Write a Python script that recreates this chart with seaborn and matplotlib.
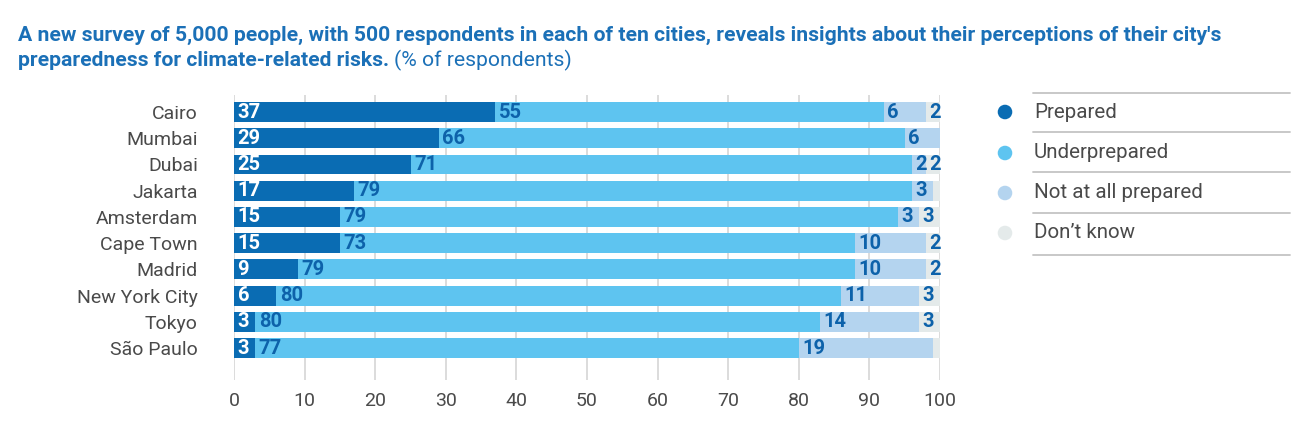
import pandas as pd
import matplotlib
matplotlib.use("Agg")
import matplotlib.pyplot as plt
import seaborn as sns

# Survey data (% of respondents)
cities = ["Cairo", "Mumbai", "Dubai", "Jakarta", "Amsterdam", "Cape Town",
          "Madrid", "New York City", "Tokyo", "São Paulo"]
prepared = [37, 29, 25, 17, 15, 15, 9, 6, 3, 3]
underprepared = [55, 66, 71, 79, 79, 73, 79, 80, 80, 77]
not_at_all = [6, 6, 2, 3, 3, 10, 10, 11, 14, 19]
dont_know = [2, 0, 2, 1, 3, 2, 2, 3, 3, 1]

categories = ["Prepared", "Underprepared", "Not at all prepared", "Don\u2019t know"]
colors = ["#0a6cb3", "#5ec4f0", "#b4d4ef", "#e4eaea"]
label_colors = ["white", "#0d62aa", "#0d62aa", "#0d62aa"]

df = pd.DataFrame({"city": cities, categories[0]: prepared, categories[1]: underprepared,
                   categories[2]: not_at_all, categories[3]: dont_know})

# cumulative ends for stacking
cum = df[categories].cumsum(axis=1)

sns.set_style("white")
plt.rcParams["font.family"] = ["Roboto", "DejaVu Sans"]

fig = plt.figure(figsize=(13, 4.46), dpi=100)
ax = fig.add_axes([234 / 1300, 1 - 380 / 446, (940 - 234) / 1300, (380 - 95) / 446])

# draw the longest cumulative bar first so the shorter ones sit on top
for cat, col in reversed(list(zip(categories, colors))):
    sns.barplot(x=cum[cat], y=df["city"], orient="h", color=col, saturation=1,
                width=0.76, linewidth=0, ax=ax, zorder=2)

# value labels
for i in range(len(cities)):
    left = 0
    for cat, lc in zip(categories, label_colors):
        v = df[cat][i]
        if v >= 2:
            ax.text(left + 0.5, i, str(v), ha="left", va="center", color=lc,
                    fontsize=14.5, fontweight="bold", zorder=3)
        left += v

ax.set_xlim(0, 100)
ax.set_ylim(len(cities) - 1 + 1.22, -0.65)
ax.set_xticks(range(0, 101, 10))
ax.set_xlabel("")
ax.set_ylabel("")
ax.grid(axis="x", color="#d9d9d9", linewidth=1.3)
ax.grid(axis="y", visible=False)
ax.set_axisbelow(True)
for s in ax.spines.values():
    s.set_visible(False)
ax.tick_params(axis="y", length=0, pad=26, labelsize=14, labelcolor="#4a4a4a")
ax.tick_params(axis="x", length=0, pad=9, labelsize=14, labelcolor="#4a4a4a")

# title
title_color = "#1b70b7"
fig.text(18 / 1300, 1 - 35 / 446,
         "A new survey of 5,000 people, with 500 respondents in each of ten cities, "
         "reveals insights about their perceptions of their city's",
         fontsize=15.2, fontweight="bold", color=title_color, va="center", ha="left")
t2 = fig.text(18 / 1300, 1 - 60 / 446, "preparedness for climate-related risks.",
              fontsize=15.2, fontweight="bold", color=title_color, va="center", ha="left")
fig.canvas.draw()
bb = t2.get_window_extent(fig.canvas.get_renderer())
fig.text(bb.x1 / fig.bbox.width + 5 / 1300, 1 - 60 / 446, "(% of respondents)",
         fontsize=15.2, color=title_color, va="center", ha="left")

# legend with separator lines
lax = fig.add_axes([0, 0, 1, 1], facecolor="none")
lax.set_xlim(0, 1300)
lax.set_ylim(446, 0)
lax.axis("off")
row_y = [112, 153, 193, 233]
line_y = [93, 132, 172, 213, 255]
for y in line_y:
    lax.plot([1033, 1290], [y, y], color="#c4c4c4", linewidth=1.3)
for y, cat, col in zip(row_y, categories, colors):
    lax.scatter([1005], [y], s=110, color=col, edgecolors="none")
    lax.text(1034, y, cat, fontsize=14.8, color="#4a4a4a", va="center", ha="left")

fig.savefig("out.png", dpi=100)
